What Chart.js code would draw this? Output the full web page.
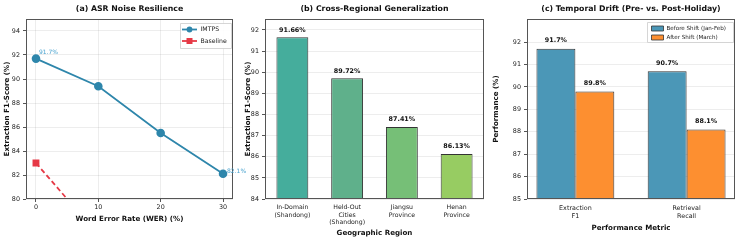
<!DOCTYPE html>
<html><head><meta charset="utf-8">
<script src="https://cdn.jsdelivr.net/npm/chart.js@4/dist/chart.umd.min.js"></script>
<style>
html,body{margin:0;padding:0;background:#fff;}
#wrap{position:relative;width:739px;height:240px;overflow:hidden;}
canvas{position:absolute;top:0;}
</style></head><body>
<div id="wrap">
<canvas id="ca" width="252" height="240" style="left:0;width:252px;height:240px"></canvas>
<canvas id="cb" width="245" height="240" style="left:243px;width:245px;height:240px"></canvas>
<canvas id="cc" width="251" height="240" style="left:488px;width:251px;height:240px"></canvas>
</div>
<script>
// ---- Data ----
const werLevels = [0, 10, 20, 30];
const imtpsF1 = [91.7, 89.4, 85.5, 82.1];
const baselineF1 = [83.0, 77.0, 71.0, 65.0];

const regions = [["In-Domain","(Shandong)"],["Held-Out","Cities","(Shandong)"],["Jiangsu","Province"],["Henan","Province"]];
const regionF1 = [91.66, 89.72, 87.41, 86.13];

const metrics = [["Extraction","F1"],["Retrieval","Recall"]];
const beforeShift = [91.7, 90.7];
const afterShift = [89.8, 88.1];

const FONT = "'DejaVu Sans', sans-serif";
const TXT = '#222';
const GRID = 'rgba(0,0,0,0.07)';
const FRAME = '#555';
const TICK = 6.4, AXT = 7.1, TTL = 7.8;

function frameAndTitle(title){
  return {
    id:'frameTitle',
    afterDatasetsDraw(chart){
      const a = chart.chartArea, c = chart.ctx;
      c.save();
      c.strokeStyle = FRAME; c.lineWidth = 1;
      c.strokeRect(Math.round(a.left)+0.5, Math.round(a.top)+0.5, Math.round(a.right-a.left)-1, Math.round(a.bottom-a.top)-1);
      c.fillStyle = '#111';
      c.font = "bold " + TTL + "px " + FONT;
      c.textAlign = 'center'; c.textBaseline = 'middle';
      c.fillText(title, (a.left+a.right)/2, 9);
      c.restore();
    }
  };
}
function yScale(min,max,step,title,width,tpad){
  return {
    min, max,
    ticks:{stepSize:step, color:TXT, font:{family:FONT,size:TICK}, padding:3},
    afterBuildTicks(s){ s.ticks = s.ticks.filter(t => Math.abs((t.value-min)/step - Math.round((t.value-min)/step))<1e-6); },
    grid:{color:GRID, drawTicks:true, tickLength:3, tickColor:FRAME},
    border:{display:false},
    title:{display:true, text:title, color:'#111', font:{family:FONT,size:AXT,weight:'bold'}, padding:{top:tpad,bottom:2}},
    afterFit(s){ s.width = width; }
  };
}
function xTitle(text){
  return {display:true, text, color:'#111', font:{family:FONT,size:AXT,weight:'bold'}, padding:{top:0,bottom:0}};
}

// ---- (a) ----
new Chart(document.getElementById('ca'), {
  type:'line',
  data:{datasets:[
    {label:'IMTPS', data: werLevels.map((x,i)=>({x, y:imtpsF1[i]})), borderColor:'#2e86ab', backgroundColor:'#2e86ab',
     borderWidth:1.8, pointRadius:3.4, pointStyle:'circle', pointHoverRadius:3.4},
    {label:'Baseline', data: werLevels.map((x,i)=>({x, y:baselineF1[i]})), borderColor:'#e63946', backgroundColor:'#e63946',
     borderWidth:1.8, borderDash:[5,3], pointRadius:3.6, pointStyle:'rect', pointHoverRadius:3.6}
  ]},
  options:{
    responsive:false, animation:false, events:[],
    layout:{padding:{left:0,right:19,top:19,bottom:17}},
    plugins:{legend:{display:false}, tooltip:{enabled:false}},
    scales:{
      x:{type:'linear', min:-1.6, max:31.6,
         afterBuildTicks(s){ s.ticks = werLevels.map(v=>({value:v})); },
         ticks:{color:TXT, font:{family:FONT,size:TICK}, padding:2},
         grid:{color:GRID, tickLength:3, tickColor:FRAME}, border:{display:false},
         title:xTitle('Word Error Rate (WER) (%)'),
         afterFit(s){ s.height = 24; }},
      y: yScale(80,95,2,'Extraction F1-Score (%)',26,3)
    }
  },
  plugins:[frameAndTitle('(a) ASR Noise Resilience'), {
    id:'annA',
    afterDatasetsDraw(chart){
      const c = chart.ctx, xs = chart.scales.x, ys = chart.scales.y;
      c.save();
      c.fillStyle = '#4aa3cf'; c.font = "6px " + FONT; c.textBaseline='middle'; c.textAlign='left';
      c.fillText(imtpsF1[0].toFixed(1)+'%', xs.getPixelForValue(werLevels[0])+3, ys.getPixelForValue(imtpsF1[0])-6);
      c.fillText(imtpsF1[3].toFixed(1)+'%', xs.getPixelForValue(werLevels[3])+4, ys.getPixelForValue(imtpsF1[3])-2.5);
      const bx = 180, by = 23, bw = 51, bh = 25;
      c.fillStyle = 'rgba(255,255,255,0.9)'; c.strokeStyle = '#ccc'; c.lineWidth = 0.8;
      c.beginPath(); c.rect(bx+0.5,by+0.5,bw,bh); c.fill(); c.stroke();
      const rows = [['IMTPS','#2e86ab','circle',29.5],['Baseline','#e63946','rect',41]];
      rows.forEach(([t,col,st,y])=>{
        c.strokeStyle = col; c.lineWidth = 1.8; c.beginPath(); c.moveTo(182,y); c.lineTo(197,y); c.stroke();
        c.fillStyle = col; c.beginPath();
        if(st==='circle'){ c.arc(189.5,y,2.9,0,Math.PI*2); } else { c.rect(186.5,y-3,6,6); }
        c.fill();
        c.fillStyle = TXT; c.font = "6.2px " + FONT; c.textAlign='left'; c.textBaseline='middle';
        c.fillText(t, 200.5, y);
      });
      c.restore();
    }
  }]
});

// ---- (b) ----
const barColsB = ['#45ad9c','#5fb08b','#76bf77','#97cc62'];
new Chart(document.getElementById('cb'), {
  type:'bar',
  data:{labels:regions, datasets:[{data:regionF1, backgroundColor:barColsB, borderColor:'#333', borderWidth:1, borderSkipped:false,
    barPercentage:0.6, categoryPercentage:0.97}]},
  options:{
    responsive:false, animation:false, events:[],
    layout:{padding:{left:0,right:4,top:19,bottom:3}},
    plugins:{legend:{display:false}, tooltip:{enabled:false}},
    scales:{
      x:{ticks:{color:TXT, font:{family:FONT,size:6.2,lineHeight:1.2}, padding:2, maxRotation:0, autoSkip:false},
         grid:{display:false, tickLength:3}, border:{display:false},
         title:xTitle('Geographic Region'),
         afterFit(s){ s.height = 38; }},
      y: yScale(84,92.52,1,'Extraction F1-Score (%)',22,1)
    }
  },
  plugins:[frameAndTitle('(b) Cross-Regional Generalization'), {
    id:'labB',
    afterDatasetsDraw(chart){
      const c = chart.ctx, meta = chart.getDatasetMeta(0);
      c.save(); c.fillStyle = '#111'; c.font = "bold 6.4px " + FONT; c.textAlign='center'; c.textBaseline='bottom';
      meta.data.forEach((b,i)=>{ c.fillText(regionF1[i].toFixed(2)+'%', b.x, b.y-4); });
      c.restore();
    }
  }]
});

// ---- (c) ----
new Chart(document.getElementById('cc'), {
  type:'bar',
  data:{datasets:[
    {label:'Before Shift (Jan-Feb)', data:beforeShift.map((y,i)=>({x:i,y})), backgroundColor:'#4b97b7', borderColor:'#333', borderWidth:1, borderSkipped:false, barPercentage:1, categoryPercentage:0.7},
    {label:'After Shift (March)', data:afterShift.map((y,i)=>({x:i,y})), backgroundColor:'#fd8f30', borderColor:'#333', borderWidth:1, borderSkipped:false, barPercentage:1, categoryPercentage:0.7}
  ]},
  options:{
    responsive:false, animation:false, events:[],
    layout:{padding:{left:0,right:4,top:19,bottom:8}},
    plugins:{legend:{display:false}, tooltip:{enabled:false}},
    scales:{
      x:{type:'linear', min:-0.435, max:1.435, offset:false,
         afterBuildTicks(s){ s.ticks = metrics.map((m,i)=>({value:i})); },
         ticks:{color:TXT, font:{family:FONT,size:TICK,lineHeight:1.2}, padding:3, maxRotation:0, autoSkip:false,
                callback:(v)=>metrics[v]},
         grid:{display:false, tickLength:3}, border:{display:false},
         title:xTitle('Performance Metric'),
         afterFit(s){ s.height = 33; }},
      y: yScale(85,93.03,1,'Performance (%)',39,4)
    }
  },
  plugins:[frameAndTitle('(c) Temporal Drift (Pre- vs. Post-Holiday)'), {
    id:'labC',
    afterDatasetsDraw(chart){
      const c = chart.ctx;
      c.save(); c.fillStyle = '#111'; c.font = "bold 6.4px " + FONT; c.textAlign='center'; c.textBaseline='bottom';
      [beforeShift, afterShift].forEach((arr,d)=>{
        chart.getDatasetMeta(d).data.forEach((b,i)=>{ c.fillText(arr[i].toFixed(1)+'%', b.x, b.y-5); });
      });
      const bx = 647-488, by = 22, bw = 86, bh = 20;
      c.fillStyle = 'rgba(255,255,255,0.9)'; c.strokeStyle = '#ccc'; c.lineWidth = 0.8;
      c.beginPath(); c.rect(bx+0.5,by+0.5,bw,bh); c.fill(); c.stroke();
      [['Before Shift (Jan-Feb)','#4b97b7',28.5],['After Shift (March)','#fd8f30',37.5]].forEach(([t,col,y])=>{
        c.fillStyle = col; c.strokeStyle = '#333'; c.lineWidth = 0.8;
        c.beginPath(); c.rect(bx+4.5,y-2.5,12,5); c.fill(); c.stroke();
        c.fillStyle = TXT; c.font = "5.6px " + FONT; c.textAlign='left'; c.textBaseline='middle';
        c.fillText(t, bx+19.5, y);
      });
      c.restore();
    }
  }]
});
</script>
</body></html>
